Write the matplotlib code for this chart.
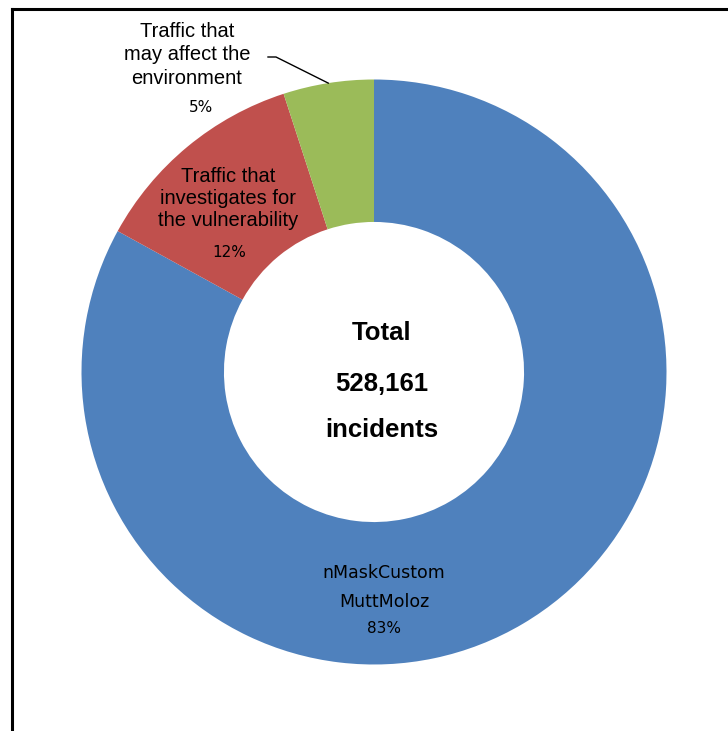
import matplotlib
matplotlib.use('Agg')
import matplotlib.pyplot as plt
from matplotlib.lines import Line2D
import numpy as np

# incident breakdown
categories = [
    ['nMaskCustom', 'MuttMoloz'],
    ['Traffic that', 'investigates for', 'the vulnerability'],
    ['Traffic that', 'may affect the', 'environment'],
]
shares = [83, 12, 5]
colors = ['#4F81BD', '#C0504D', '#9BBB59']
total_incidents = 528161

W, H = 728, 731
CX, CY, R = 374, 372, 292.5   # ring centre / radius in pixels


def px(x, y):
    """pixel position (from top-left) -> data coords of the pie axes"""
    return (x - CX) / R, (CY - y) / R


fig = plt.figure(figsize=(W / 100, H / 100), dpi=100)
ax = fig.add_axes([(CX - R) / W, (H - CY - R) / H, 2 * R / W, 2 * R / H])

wedges, _ = ax.pie(shares, colors=colors, startangle=90, counterclock=False,
                   radius=1.0, wedgeprops=dict(width=0.487, linewidth=0))
ax.set_xlim(-1, 1)
ax.set_ylim(-1, 1)
ax.set_aspect('auto')
ax.axis('off')

name_font = dict(family='Liberation Sans', fontsize=14.5, color='black',
                 ha='center', va='baseline')
pct_font = dict(family='DejaVu Sans', fontsize=11, color='black',
                ha='center', va='baseline')

# label layout: x centre, baselines of the name lines, baseline of the percent
layout = [
    (384, [578, 607], (384, 633), dict(family='DejaVu Sans', fontsize=12.5)),
    (228, [182, 204, 226], (229, 257), {}),
    (187, [37, 60, 84], (201, 112), {}),
]

for lines, share, (lx, bases, (pxx, pyy), extra) in zip(categories, shares, layout):
    for line, b in zip(lines, bases):
        kw = dict(name_font)
        kw.update(extra)
        ax.text(*px(lx, b), line, **kw)
    ax.text(*px(pxx, pyy), f'{share}%', **pct_font)

# leader line for the small green slice
g = wedges[2]
mid = np.deg2rad((g.theta1 + g.theta2) / 2)
tip = (np.cos(mid), np.sin(mid))
x0, y0 = px(268, 57)
x1, y1 = px(276, 57)
ax.plot([x0, x1, tip[0]], [y0, y1, tip[1]], color='black', lw=1.0,
        clip_on=False)

# centre caption
centre_font = dict(family='Liberation Sans', fontsize=18.5, fontweight='bold',
                   ha='center', va='baseline')
ax.text(*px(CX + 8, 340), 'Total', **centre_font)
ax.text(*px(CX + 8, 391), f'{total_incidents:,}', **centre_font)
ax.text(*px(CX + 8, 437), 'incidents', **centre_font)

# outer chart frame (left and top edges)
lx, ty = 12 / W, 1 - 9 / H
fig.add_artist(Line2D([lx, lx], [0, ty], color='black', lw=2.2,
                      transform=fig.transFigure))
fig.add_artist(Line2D([lx, 1], [ty, ty], color='black', lw=2.2,
                      transform=fig.transFigure))

fig.savefig('out.png', dpi=100)
